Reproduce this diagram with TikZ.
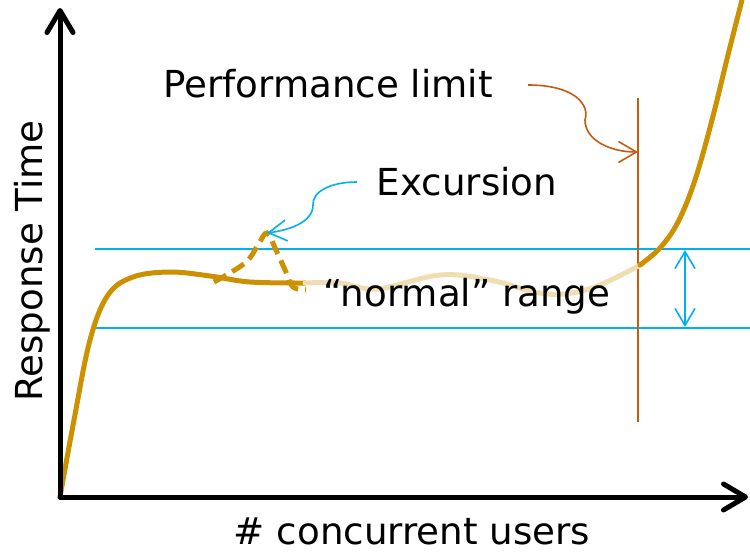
\documentclass[tikz,border=0pt]{standalone}
\usepackage{fontspec}
\setmainfont{DejaVu Sans}
\usetikzlibrary{arrows.meta}
\definecolor{gold}{RGB}{204,145,0}
\definecolor{paleGold}{RGB}{240,222,178}
\definecolor{sky}{RGB}{0,176,240}
\definecolor{rust}{RGB}{197,90,17}
\tikzset{
  axis/.style={line width=5pt, line cap=round, -{Straight Barb[round,length=22pt,width=26pt]}},
  band/.style={sky, line width=1.6pt},
  curve/.style={line width=5pt, line cap=round, line join=round},
  callout/.style={line width=1.6pt, -{Straight Barb[length=18pt,width=21pt]}},
  lbl/.style={font=\fontsize{37.2}{40}\selectfont, anchor=base, inner sep=0pt},
}
\begin{document}
\begin{tikzpicture}[x=1pt,y=-1pt]
\useasboundingbox (0,0) rectangle (750,553);

% normal band
\draw[band] (95,249) -- (750,249);
\draw[band] (95,328) -- (750,328);

% performance limit
\coordinate (limTop) at (638,98);
\coordinate (limBot) at (638,422);
\draw[rust, line width=1.6pt] (limTop) -- (limBot);
\coordinate (limHit) at (638,152);
\coordinate (limStart) at (528,85);
\draw[rust, callout] (limStart) .. controls (575,85) and (590,105) .. (585,120)
   .. controls (585,140) and (610,152) .. (limHit);

% response curve
\draw[gold, curve] plot[smooth, tension=0.6] coordinates
  {(60,497) (74,420) (90,340) (108,295) (133,277) (170,272) (210,276) (250,282) (305,283)};
\draw[paleGold, curve] plot[smooth, tension=0.6] coordinates
  {(305,283) (340,283) (377,289) (440,275) (490,280) (547,294) (592,288) (642,264)};
\draw[gold, curve] plot[smooth, tension=0.6] coordinates
  {(640,265) (660,248) (678,222) (695,180) (712,120) (728,55) (742,0)};

% excursion
\coordinate (peak) at (267,233);
\draw[gold, line width=5pt, dash pattern=on 14pt off 7pt] plot[smooth, tension=0.6] coordinates
  {(214,282) (245,263) (258,245) (267,233) (276,250) (286,272) (293,287) (306,290)};
\coordinate (excStart) at (357,182);
\draw[sky, callout] (excStart) .. controls (330,182) and (312,192) .. (313,205)
   .. controls (313,222) and (290,230) .. (peak);

% band width marker
\coordinate (bandTop) at (685,250);
\coordinate (bandBot) at (685,327);
\draw[sky, line width=1.6pt, {Straight Barb[length=17pt,width=20pt]}-{Straight Barb[length=17pt,width=20pt]}] (bandTop) -- (bandBot);

% axes
\coordinate (O) at (60,497);
\coordinate (yEnd) at (60,8);
\coordinate (xEnd) at (748,497);
\draw[axis] (O) -- (yEnd);
\draw[axis] (O) -- (xEnd);

% labels
\node[lbl] (perf) at (328,98) {Performance limit};
\node[lbl] (exc) at (467,196) {Excursion};
\node[lbl] (norm) at (467,307) {“normal” range};
\node[lbl] (users) at (412,544) {\# concurrent users};
\node[lbl, rotate=90] (resp) at (42,261) {Response Time};
\end{tikzpicture}
\end{document}
